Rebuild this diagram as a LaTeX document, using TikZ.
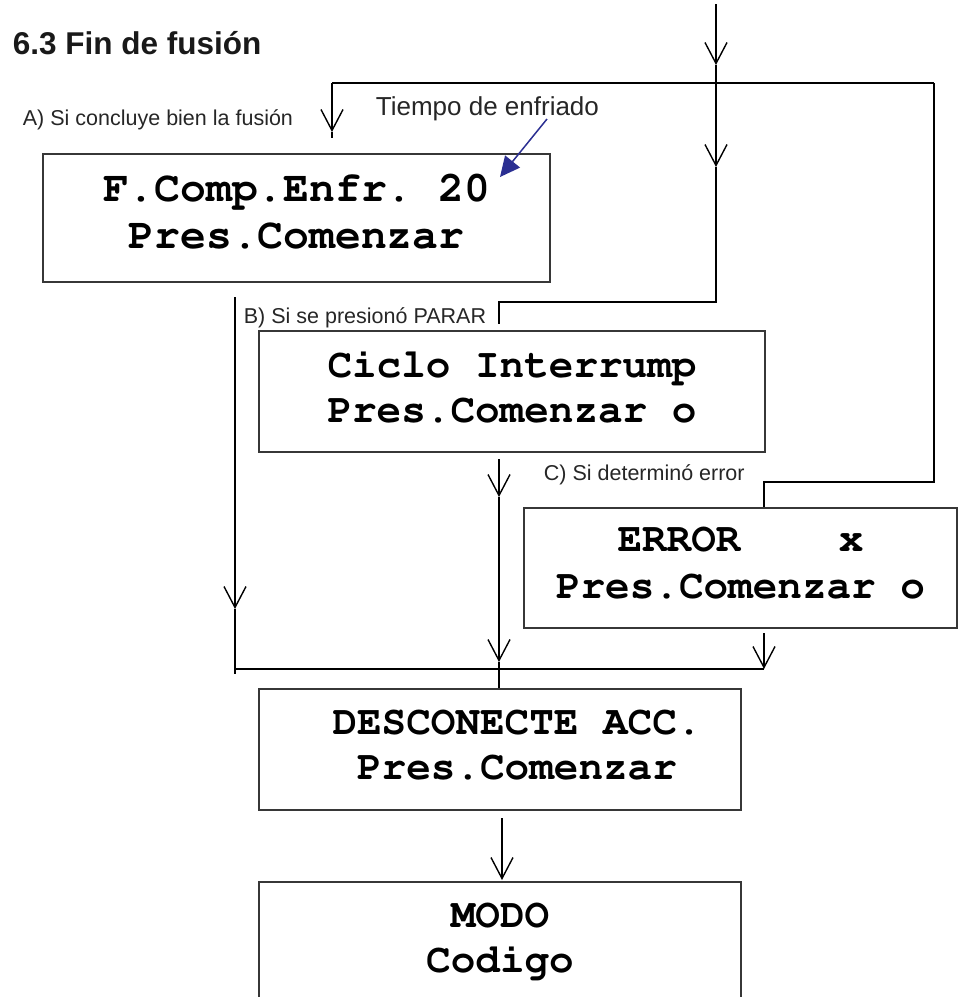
\documentclass[tikz,border=0pt]{standalone}
\usepackage[T1]{fontenc}
\usepackage{fontspec}
\setmainfont{Liberation Sans}
\usetikzlibrary{arrows.meta}
\newcommand{\lcdfont}{\fontencoding{T1}\fontfamily{pcr}\bfseries}
\definecolor{lcdgray}{RGB}{55,55,55}
\definecolor{notenavy}{RGB}{43,47,146}
\tikzset{every picture/.style={line width=1.8pt},
  lcd/.style={draw=lcdgray, line width=2pt, inner sep=0pt},
  lcdtext/.style={inner sep=0pt, align=center, font=\lcdfont\fontsize{41}{45}\selectfont},
  flow/.style={-{Straight Barb[length=21pt,width=22pt,line width=1.4pt]}},
  note/.style={anchor=base west, inner sep=0pt, text=black!85,
    font=\fontsize{21.5}{24}\selectfont}}
\frenchspacing

\begin{document}
\begin{tikzpicture}[x=1pt,y=1pt,yscale=-1,xscale=1]
\useasboundingbox (0,0) rectangle (959,997);
\clip (0,0) rectangle (959,997);

% Text Node
\node[anchor=base west, inner sep=0pt, text=black!90, font=\bfseries\fontsize{31.5}{36}\selectfont] (title) at (12,54) {6.3 Fin de fusión};
% Text Node
\node[note] (casea) at (22,125) {A) Si concluye bien la fusión};
% Text Node
\node[note] (caseb) at (243,323) {B) Si se presionó PARAR};
% Text Node
\node[note] (casec) at (543,480) {C) Si determinó error};
% Text Node
\node[anchor=base west, inner sep=0pt, text=black!85, font=\fontsize{26}{30}\selectfont] (tiempo) at (375,115) {Tiempo de enfriado};

%Shape: Rectangle
\node[lcd, minimum width=507pt, minimum height=128pt] (comp) at (296.5,218) {};
\node[lcdtext, font=\lcdfont\fontsize{43}{47}\selectfont] (comptext) at (296.5,212) {F.Comp.Enfr. 20\\Pres.Comenzar};
%Shape: Rectangle
\node[lcd, minimum width=506pt, minimum height=121pt] (ciclo) at (512,391.5) {};
\node[lcdtext] (ciclotext) at (512,387) {Ciclo Interrump\\Pres.Comenzar o};
%Shape: Rectangle
\node[lcd, minimum width=433pt, minimum height=120pt] (err) at (740.5,568) {};
\node[lcdtext, font=\lcdfont\fontsize{41}{47}\selectfont] (errtext) at (740.5,563.5) {ERROR\ \ \ \ x\\Pres.Comenzar o};
%Shape: Rectangle
\node[lcd, minimum width=482pt, minimum height=121pt] (desc) at (500,749.5) {};
\node[lcdtext] (desctext) at (517,745.5) {DESCONECTE ACC.\\Pres.Comenzar};
%Shape: Rectangle (open at the bottom)
\draw[lcdgray, line width=2pt] (259,1005) |- (741,882) -- (741,1005);
\node[lcdtext] (modo) at (500,940.5) {MODO\\Codigo};

% coordinates of the wiring
\coordinate (in) at (716,4);
\coordinate (inarr) at (716,65);
\coordinate (jtop) at (716,83);
\coordinate (jleft) at (332,83);
\coordinate (jright) at (934,83);
\coordinate (aarr) at (332,132);
\coordinate (aend) at (332,138);
\coordinate (barr) at (716,167);
\coordinate (bturn) at (716,302);
\coordinate (bend) at (499,324);
\coordinate (cturn) at (934,482);
\coordinate (cend) at (764,507);
\coordinate (compout) at (235,297);
\coordinate (comparr) at (235,609);
\coordinate (compend) at (235,674);
\coordinate (cicloout) at (499,459);
\coordinate (cicloarr) at (499,497);
\coordinate (mergearr) at (499,662);
\coordinate (descin) at (499,688);
\coordinate (errout) at (764,633);
\coordinate (errarr) at (764,669);
\coordinate (descout) at (502,818);
\coordinate (modoin) at (502,880);

%Straight Lines
\draw[flow] (in) -- (inarr);
\draw (inarr) -- (jtop);
\draw (jleft) -- (jright);
\draw[flow] (jleft) -- (aarr);
\draw (aarr) -- (aend);
\draw[flow] (jtop) -- (barr);
\draw (barr) -- (bturn) -| (bend);
\draw (jright) -- (cturn) -| (cend);
%Straight Lines
\draw[flow] (compout) -- (comparr);
\draw (comparr) -- (compend);
\draw[flow] (cicloout) -- (cicloarr);
\draw[flow] (cicloarr) -- (mergearr);
\draw (mergearr) -- (descin);
\draw[flow] (errout) -- (errarr);
\draw (compend |- errarr) -- (errarr);
\draw[flow] (descout) -- (modoin);
%Pointer
\coordinate (ptrtail) at (547,119);
\coordinate (ptrtip) at (500,177);
\draw[notenavy, line width=1.5pt, -{Triangle[length=20pt,width=19pt]}] (ptrtail) -- (ptrtip);

\end{tikzpicture}
\end{document}
